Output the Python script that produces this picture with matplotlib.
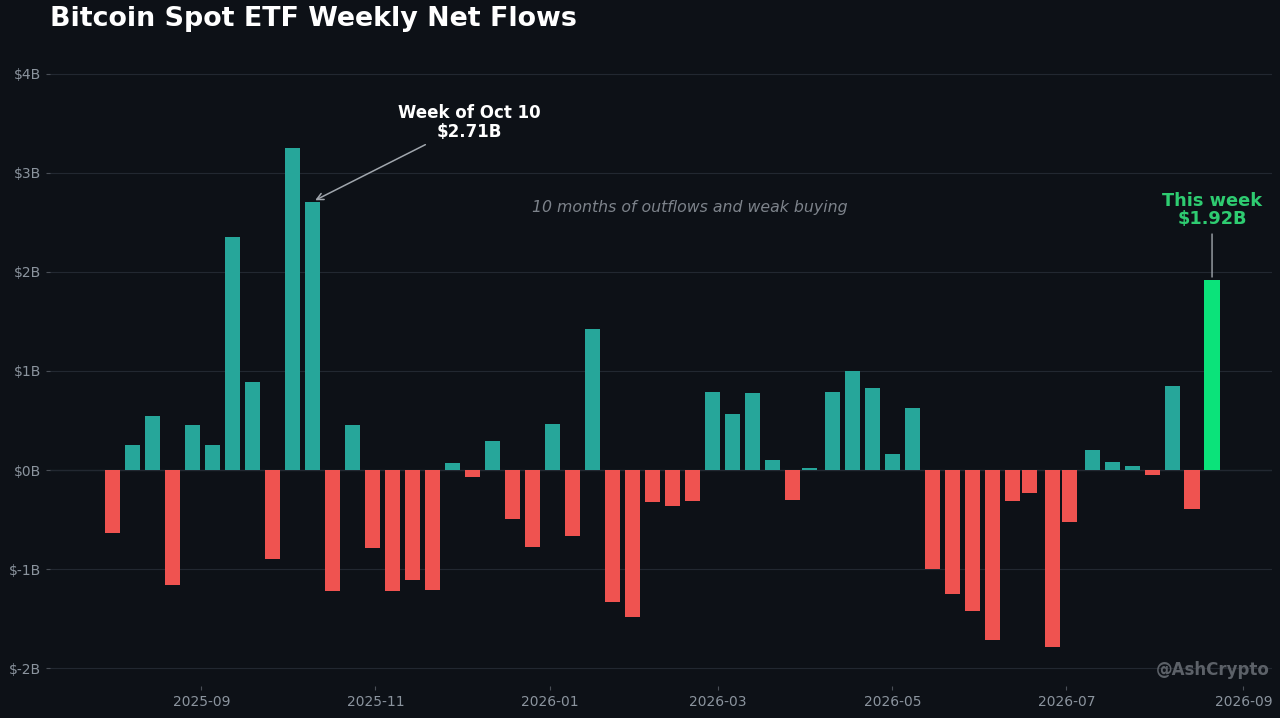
import matplotlib
matplotlib.use("Agg")
import matplotlib.pyplot as plt
import matplotlib.dates as mdates
import pandas as pd

# week-ending dates (Fridays, Thursday on holiday weeks)
weeks = [
    "2025-08-01", "2025-08-08", "2025-08-15", "2025-08-22", "2025-08-29",
    "2025-09-05", "2025-09-12", "2025-09-19", "2025-09-26",
    "2025-10-03", "2025-10-10", "2025-10-17", "2025-10-24", "2025-10-31",
    "2025-11-07", "2025-11-14", "2025-11-21", "2025-11-28",
    "2025-12-05", "2025-12-12", "2025-12-19", "2025-12-26",
    "2026-01-02", "2026-01-09", "2026-01-16", "2026-01-23", "2026-01-30",
    "2026-02-06", "2026-02-13", "2026-02-20", "2026-02-27",
    "2026-03-06", "2026-03-13", "2026-03-20", "2026-03-27",
    "2026-04-02", "2026-04-10", "2026-04-17", "2026-04-24",
    "2026-05-01", "2026-05-08", "2026-05-15", "2026-05-22", "2026-05-29",
    "2026-06-05", "2026-06-12", "2026-06-18", "2026-06-26",
    "2026-07-02", "2026-07-10", "2026-07-17", "2026-07-24", "2026-07-31",
    "2026-08-07", "2026-08-14", "2026-08-21",
]
# net flows, $B
flows = [
    -0.64, 0.25, 0.55, -1.16, 0.45,
    0.25, 2.35, 0.89, -0.90,
    3.25, 2.71, -1.22, 0.45, -0.79,
    -1.22, -1.11, -1.21, 0.07,
    -0.07, 0.29, -0.49, -0.78,
    0.46, -0.67, 1.42, -1.33, -1.48,
    -0.32, -0.36, -0.31, 0.79,
    0.57, 0.78, 0.10, -0.30,
    0.02, 0.79, 1.00, 0.83,
    0.16, 0.63, -1.00, -1.25, -1.42,
    -1.72, -0.31, -0.23, -1.79,
    -0.52, 0.20, 0.08, 0.04, -0.05,
    0.85, -0.39, 1.92,
]

BG = "#0d1117"
UP = "#26a69a"
DOWN = "#ef5350"
NOW = "#0be37a"
GREY = "#8b949e"

dates = pd.to_datetime(weeks)
colors = [UP if v >= 0 else DOWN for v in flows]
colors[-1] = NOW

fig = plt.figure(figsize=(12.8, 7.18), dpi=100, facecolor=BG)
ax = fig.add_axes([50 / 1280, 1 - 686 / 718, 1222 / 1280, 642 / 718])
ax.set_facecolor(BG)

ax.bar(dates, flows, width=5.3, color=colors, zorder=3)

ax.set_xlim(pd.Timestamp("2025-07-10"), pd.Timestamp("2026-09-11"))
ax.set_ylim(-2.18, 4.30)
ax.set_yticks([-2, -1, 0, 1, 2, 3, 4])
ax.yaxis.set_major_formatter(plt.FuncFormatter(lambda v, p: f"${v:.0f}B"))
ax.xaxis.set_major_locator(mdates.MonthLocator(bymonth=[1, 3, 5, 7, 9, 11]))
ax.xaxis.set_major_formatter(mdates.DateFormatter("%Y-%m"))

ax.grid(axis="y", color="#222831", linewidth=0.8, zorder=0)
ax.axhline(0, color="#2c323b", linewidth=0.9, zorder=1)
for s in ax.spines.values():
    s.set_visible(False)
ax.tick_params(colors=GREY, labelsize=10, length=3)
ax.tick_params(axis="x", colors="#4a4f57", labelcolor=GREY, length=3)
ax.tick_params(axis="y", colors="#4a4f57", labelcolor=GREY)

fig.text(50 / 1280, 1 - 19 / 718, "Bitcoin Spot ETF Weekly Net Flows",
         color="white", fontsize=19.4, weight="bold", va="center", ha="left")

ax.annotate("Week of Oct 10\n$2.71B", xy=(pd.Timestamp("2025-10-10"), 2.71),
            xytext=(pd.Timestamp("2025-12-04"), 3.51),
            ha="center", va="center", color="white", fontsize=12, weight="bold",
            linespacing=1.05,
            arrowprops=dict(arrowstyle="->", color="#a0a6ad", lw=1.1), zorder=5)

ax.text(pd.Timestamp("2026-02-19"), 2.65, "10 months of outflows and weak buying",
        color="#7d838b", fontsize=11.3, style="italic", ha="center", va="center")

ax.annotate("This week\n$1.92B", xy=(pd.Timestamp("2026-08-21"), 1.92),
            xytext=(pd.Timestamp("2026-08-21"), 2.62),
            ha="center", va="center", color="#2ecc71", fontsize=12.8, weight="bold",
            linespacing=1.0,
            arrowprops=dict(arrowstyle="-", color="#a0a6ad", lw=1.0), zorder=5)

fig.text(1270 / 1280, 1 - 670 / 718, "@AshCrypto", color="#5c6168",
         fontsize=12, weight="bold", ha="right", va="center")

fig.savefig("out.png", dpi=100, facecolor=BG)
